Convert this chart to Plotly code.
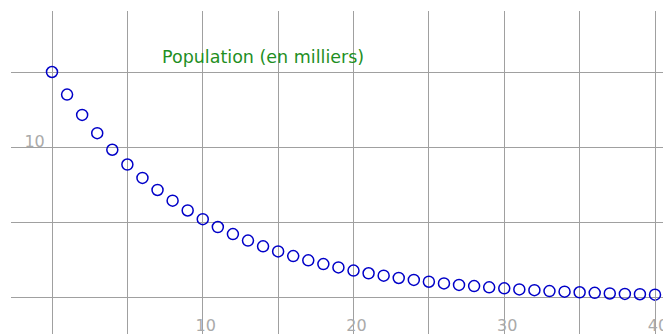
import plotly.graph_objects as go

years = list(range(0, 41))
population = [15.0, 13.5, 12.15, 10.94, 9.84, 8.86, 7.97, 7.17, 6.46, 5.81,
              5.23, 4.71, 4.24, 3.81, 3.43, 3.09, 2.78, 2.50, 2.25, 2.03,
              1.82, 1.64, 1.48, 1.33, 1.20, 1.08, 0.97, 0.87, 0.79, 0.71,
              0.64, 0.57, 0.52, 0.46, 0.42, 0.38, 0.34, 0.30, 0.27, 0.25, 0.22]
x_tick_vals = [10, 20, 30, 40]
y_tick_vals = [10]
title_text = "Population (en milliers)"

GRID = "#a0a0a0"
LABEL = "#aaaaaa"

fig = go.Figure()
fig.add_trace(go.Scatter(
    x=years, y=population, mode="markers",
    marker=dict(symbol="circle-open", size=11, color="#0000c8",
                line=dict(width=1.5, color="#0000c8")),
    hoverinfo="skip", showlegend=False, cliponaxis=False,
))

fig.add_annotation(x=14, y=16.0, xref="x", yref="y", text=title_text,
                   showarrow=False, font=dict(family="DejaVu Sans", size=17.5, color="#1f8f1f"))

fig.update_layout(
    width=663, height=334,
    margin=dict(l=11, r=0, t=11, b=0, pad=0, autoexpand=False),
    paper_bgcolor="white", plot_bgcolor="white",
    font=dict(family="DejaVu Sans", size=16, color=LABEL),
    xaxis=dict(
        range=[-2.72, 40.53], anchor="free", position=36/323, automargin=False,
        tickvals=x_tick_vals, ticktext=[str(v) for v in x_tick_vals],
        ticks="outside", ticklen=7, tickcolor=GRID, tickwidth=1,
        showgrid=True, gridcolor=GRID, gridwidth=1,
        minor=dict(dtick=5, tick0=0, showgrid=True, gridcolor=GRID, gridwidth=1, ticks=""),
        zeroline=False, showline=False,
        tickfont=dict(family="DejaVu Sans", size=16, color=LABEL),
        ticklabelshift=3, ticklabelstandoff=6, ticklabeloverflow="allow",
    ),
    yaxis=dict(
        range=[-2.39, 19.05], anchor="free", position=41/652, automargin=False,
        tickvals=y_tick_vals, ticktext=[str(v) for v in y_tick_vals],
        ticks="outside", ticklen=8, tickcolor=GRID, tickwidth=1,
        showgrid=True, gridcolor=GRID, gridwidth=1,
        minor=dict(dtick=5, tick0=0, showgrid=True, gridcolor=GRID, gridwidth=1, ticks=""),
        zeroline=False, showline=False,
        tickfont=dict(family="DejaVu Sans", size=16, color=LABEL),
        ticklabelstandoff=-4,
        ticklabelshift=-6,
    ),
)

fig.write_html("out.html", config={"displayModeBar": False},
               post_script="document.body.style.margin='0';document.body.style.overflow='hidden';")
